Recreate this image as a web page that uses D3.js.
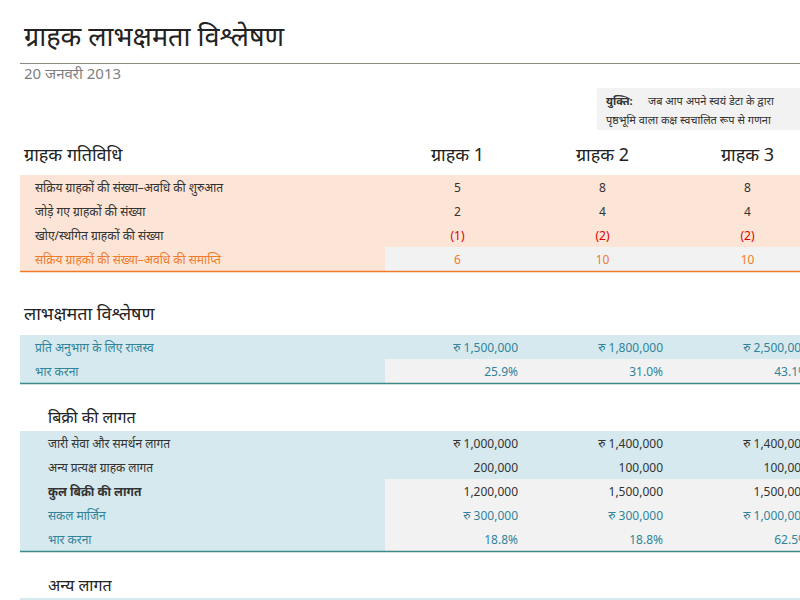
<!DOCTYPE html>
<html><head><meta charset="utf-8">
<script src="https://cdn.jsdelivr.net/npm/d3@7/dist/d3.min.js"></script>
<style>body{margin:0;background:#fff;overflow:hidden}text{font-family:"Noto Sans","Noto Sans Devanagari",sans-serif}</style>
</head><body><svg id="c" width="800" height="600"></svg>
<script>
const customers = ["ग्राहक 1","ग्राहक 2","ग्राहक 3"];
const activityLabels = ["सक्रिय ग्राहकों की संख्या–अवधि की शुरुआत","जोड़े गए ग्राहकों की संख्या","खोए/स्थगित ग्राहकों की संख्या","सक्रिय ग्राहकों की संख्या–अवधि की समाप्ति"];
const activityValues = [[5,8,8],[2,4,4],[-1,-2,-2],[6,10,10]];
const revenueLabels = ["प्रति अनुभाग के लिए राजस्व","भार करना"];
const revenue = [1500000,1800000,2500000];
const revenueShare = [25.9,31.0,43.1];
const cogsLabels = ["जारी सेवा और समर्थन लागत","अन्य प्रत्यक्ष ग्राहक लागत","कुल बिक्री की लागत","सकल मार्जिन","भार करना"];
const cogs = [[1000000,1400000,1400000],[200000,100000,100000],[1200000,1500000,1500000],[300000,300000,1000000],[18.8,18.8,62.5]];

const svg = d3.select("#c");
const x = d3.scaleBand().domain(customers).range([385,820]);
const fmt = d3.format(",");
const rs = v => "रु " + fmt(v);
const TEAL = "#31849b", ORANGE = "#f07c2a", DARK = "#333";

function txt(x0,y0,s,o={}){return svg.append("text").attr("x",x0).attr("y",y0).text(s)
  .attr("font-size",o.size||12).attr("fill",o.fill||DARK).attr("text-anchor",o.anchor||"start")
  .attr("font-weight",o.weight||"normal").attr("dominant-baseline","central");}

txt(24,35,"ग्राहक लाभक्षमता विश्लेषण",{size:27,fill:"#222"});
svg.append("line").attr("x1",20).attr("x2",800).attr("y1",63.5).attr("y2",63.5).attr("stroke","#8a8a80");
txt(24,73,"20 जनवरी 2013",{size:15,fill:"#7f7f7f"});
svg.append("rect").attr("x",597).attr("y",88).attr("width",210).attr("height",42).attr("fill","#f2f2f2");
txt(606,100,"युक्ति:",{size:11,weight:"bold"}); txt(648,100,"जब आप अपने स्वयं डेटा के द्वारा",{size:11});
txt(606,119,"पृष्ठभूमि वाला कक्ष स्वचालित रूप से गणना",{size:11});

// activity
txt(24,154,"ग्राहक गतिविधि",{size:18,fill:"#222"});
customers.forEach(c=>txt(x(c)+x.bandwidth()/2,154,c,{size:18,anchor:"middle",fill:"#222"}));
const r0=175,rh=24;
svg.append("rect").attr("x",20).attr("y",r0).attr("width",790).attr("height",rh*4).attr("fill","#fce4d6");
svg.append("rect").attr("x",385).attr("y",r0+rh*3).attr("width",425).attr("height",rh).attr("fill","#f2f2f2");
svg.append("line").attr("x1",20).attr("x2",800).attr("y1",r0+rh*4+0.5).attr("y2",r0+rh*4+0.5).attr("stroke",ORANGE).attr("stroke-width",1.5);
activityLabels.forEach((l,i)=>{
  const y=r0+rh*i+rh/2, last=i===3;
  txt(35,y,l,{fill:last?ORANGE:DARK});
  activityValues[i].forEach((v,j)=>txt(x(customers[j])+x.bandwidth()/2,y,v<0?`(${-v})`:v,
    {anchor:"middle",fill:last?ORANGE:(v<0?"#e00000":DARK)}));
});

// profitability
txt(24,313,"लाभक्षमता विश्लेषण",{size:18,fill:"#222"});
const p0=335;
svg.append("rect").attr("x",20).attr("y",p0).attr("width",790).attr("height",rh*2).attr("fill","#d6e9ee");
svg.append("rect").attr("x",385).attr("y",p0+rh).attr("width",425).attr("height",rh).attr("fill","#f2f2f2");
svg.append("line").attr("x1",20).attr("x2",800).attr("y1",p0+rh*2+0.5).attr("y2",p0+rh*2+0.5).attr("stroke","#3d8a8a").attr("stroke-width",1.5);
revenueLabels.forEach((l,i)=>txt(35,p0+rh*i+rh/2,l,{fill:TEAL}));
customers.forEach((c,j)=>{
  txt(x(c)+x.bandwidth()-12,p0+rh/2,rs(revenue[j]),{anchor:"end",fill:TEAL});
  txt(x(c)+x.bandwidth()-12,p0+rh*1.5,revenueShare[j].toFixed(1)+"%",{anchor:"end",fill:TEAL});
});

txt(48,417,"बिक्री की लागत",{size:16,fill:"#222"});
const c0=431;
svg.append("rect").attr("x",20).attr("y",c0).attr("width",790).attr("height",rh*5).attr("fill","#d6e9ee");
svg.append("rect").attr("x",385).attr("y",c0+rh*2).attr("width",425).attr("height",rh*3).attr("fill","#f2f2f2");
svg.append("line").attr("x1",20).attr("x2",800).attr("y1",c0+rh*5+0.5).attr("y2",c0+rh*5+0.5).attr("stroke","#3d8a8a").attr("stroke-width",1.5);
cogsLabels.forEach((l,i)=>{
  const y=c0+rh*i+rh/2;
  const lf=i>=3?TEAL:DARK, vf=i>=3?TEAL:DARK;
  txt(48,y,l,{fill:lf,weight:i===2?"bold":"normal"});
  cogs[i].forEach((v,j)=>{
    const s = i===4 ? v.toFixed(1)+"%" : (i===0||i===3 ? rs(v) : fmt(v));
    txt(x(customers[j])+x.bandwidth()-12,y,s,{anchor:"end",fill:vf});
  });
});
txt(48,585,"अन्य लागत",{size:16,fill:"#222"});
svg.append("rect").attr("x",20).attr("y",598).attr("width",790).attr("height",4).attr("fill","#d6e9ee");
</script></body></html>
